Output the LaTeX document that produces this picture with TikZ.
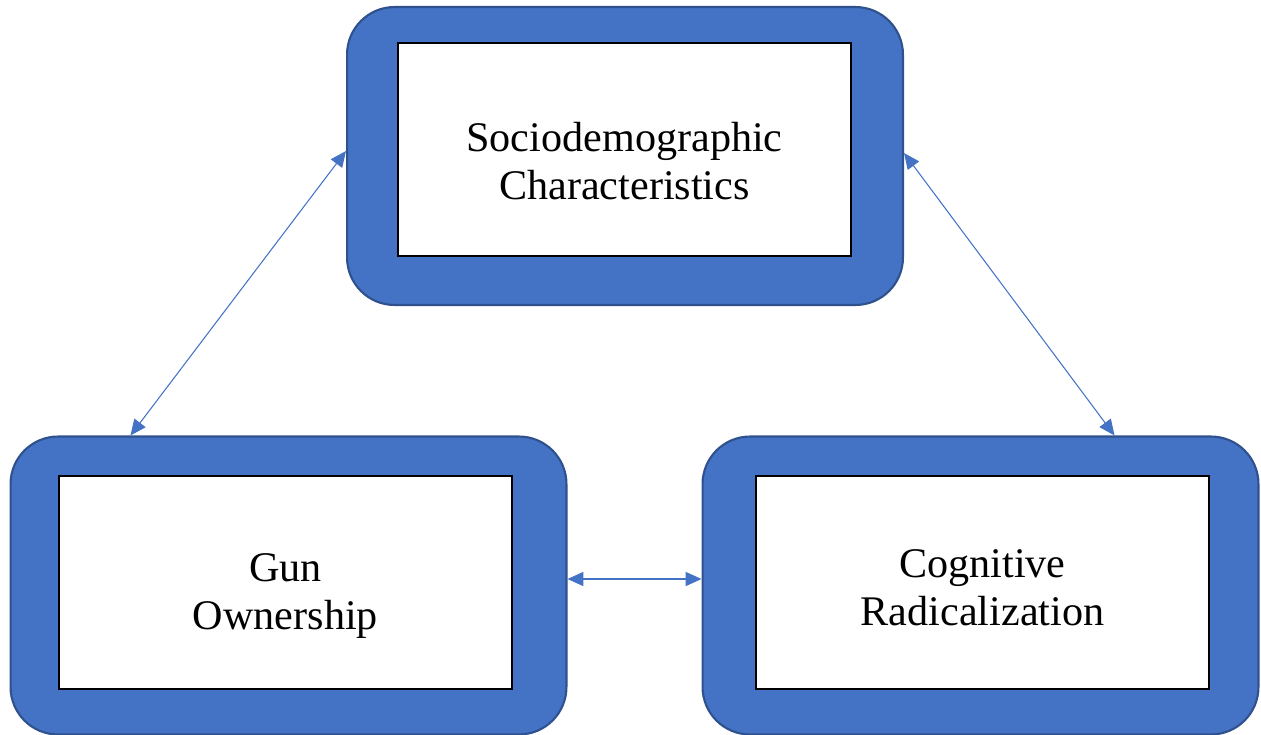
\documentclass[tikz,border=0pt]{standalone}
\usepackage{fontspec}
\setmainfont{Liberation Serif}
\usetikzlibrary{arrows.meta,positioning}
\definecolor{boxblue}{HTML}{4472C4}
\definecolor{boxedge}{HTML}{2F528F}

\begin{document}
\begin{tikzpicture}[x=0.02cm,y=-0.02cm,
  outerbox/.style={draw=boxedge,line width=1.2pt,fill=boxblue,rounded corners=0.95cm,minimum width=11.12cm,minimum height=5.96cm},
  innerbox/.style={draw=black,line width=1.2pt,fill=white,minimum width=9.06cm,minimum height=4.26cm},
  boxtext/.style={align=center,font=\fontsize{24}{27.3}\selectfont},
  link/.style={boxblue,line width=0.6pt,{Triangle[length=9pt,width=8pt]}-{Triangle[length=9pt,width=8pt]}}]
\useasboundingbox (0,0) rectangle (1261,734);
\node[outerbox] (sd)  at (625,156)   {};
\node[outerbox] (gun) at (288.5,585.5) {};
\node[outerbox] (cog) at (980.5,585.5) {};
\node[innerbox] (sdin)  at (624.5,149.5) {};
\node[innerbox] (gunin) at (285.5,582.5) {};
\node[innerbox] (cogin) at (982.5,582.5) {};
\node[boxtext] (sdtext)  at (624.5,161) {Sociodemographic\\Characteristics};
\node[boxtext] (guntext) at (285.5,596) {Gun\\Ownership};
\node[boxtext] (cogtext) at (982.5,588) {Cognitive\\Radicalization};
\draw[link] ([yshift=0.1cm]sd.west) -- ([xshift=2.42cm]gun.north west);
\draw[link] ([yshift=0.06cm]sd.east) -- ([xshift=-2.9cm]cog.north east);
\draw[link] ([yshift=0.13cm]gun.east) -- ([yshift=0.13cm]cog.west);
\end{tikzpicture}
\end{document}
